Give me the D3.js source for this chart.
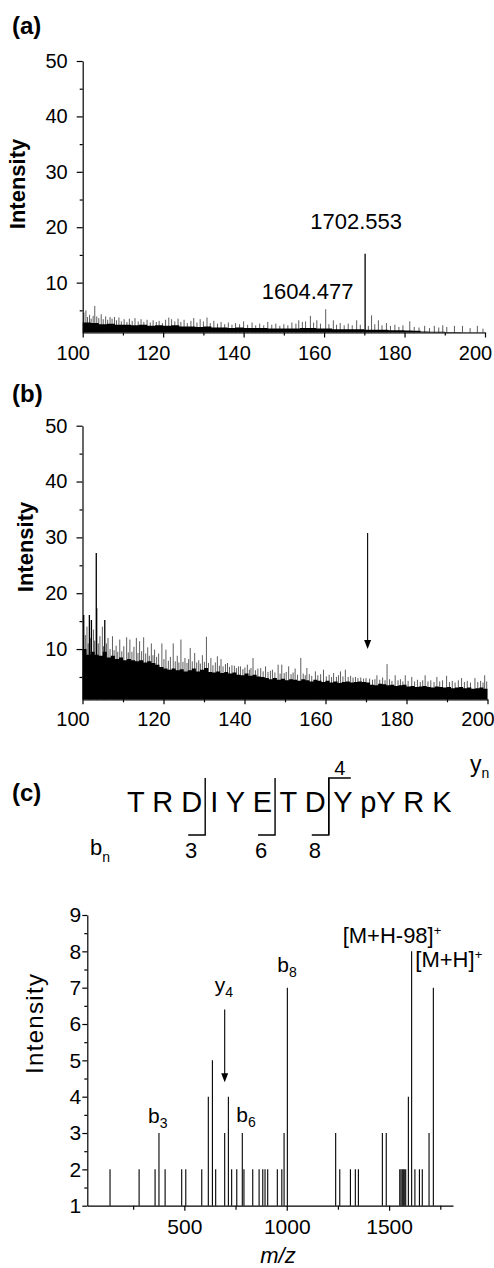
<!DOCTYPE html>
<html>
<head>
<meta charset="utf-8">
<script src="https://cdn.jsdelivr.net/npm/d3@7"></script>
<style>
  body { margin: 0; background: #fff; }
  svg { display: block; }
  text { font-family: "Liberation Sans", Arial, sans-serif; fill: #000; }
</style>
</head>
<body>
<div id="chart"></div>
<script>

// ---------- DATA ----------

// panel (a): dense noise floor, sampled every 2 units from 100 to 200
var envA = [2.8,2.7,2.5,2.6,2.4,2.4,2.3,2.4,2.2,2.3,2.2,2.3,2.1,2.1,2.0,2.1,1.9,1.9,1.8,1.9,
            1.8,1.8,1.8,1.7,1.7,1.7,1.7,1.8,1.8,1.7,1.7,1.6,1.6,1.6,1.6,1.5,1.5,1.5,1.4,1.4,
            1.35,1.3,1.2,1.15,1.15,1.1,1.1,1.05,1.05,1.05,1.05];

// panel (a): individual peaks [m/z / 10, intensity]
var peaksA = [
  [100.3,4.6],[100.8,5.0],[101.2,3.8],[101.7,4.2],[102.1,3.5],[102.6,4.0],[103.0,5.8],[103.5,3.9],
  [104.0,3.6],[104.6,4.3],[105.1,3.4],[105.7,3.9],[106.2,3.3],[106.8,3.8],[107.3,3.5],[107.9,3.8],
  [108.4,3.2],[109.0,3.7],[109.6,3.0],[110.3,3.4],[111.0,2.9],[111.6,3.5],[112.3,3.1],[113.0,3.6],
  [113.8,3.0],[114.5,3.4],[115.2,2.9],[116.0,3.3],[116.8,2.8],[117.5,3.2],[118.3,2.9],[119.0,3.1],
  [119.8,2.7],[120.6,3.3],[121.4,3.7],[122.1,3.4],[122.9,3.0],[123.7,3.5],[124.4,2.9],[125.2,3.3],
  [126.0,2.7],[126.9,3.1],[127.6,3.6],[128.4,2.8],[129.2,3.4],[130.0,3.0],[130.9,3.7],[131.7,2.7],
  [132.6,3.1],[133.5,2.6],[134.4,2.9],[135.3,2.5],[136.2,2.8],[137.1,2.4],[138.0,2.7],[139.0,2.5],
  [140.0,3.0],[141.0,2.4],[142.1,2.8],[143.0,2.3],[144.0,2.6],[145.0,2.3],[146.0,2.9],[147.0,2.4],
  [148.0,2.6],[149.0,2.2],[150.0,2.5],[151.0,2.3],[152.0,2.8],[153.0,2.6],[153.7,3.2],[154.6,2.9],
  [155.4,3.0],[156.6,4.0],[157.4,2.8],[158.2,3.2],[159.1,2.6],[160.4,5.2],[161.2,2.5],[162.3,3.2],
  [163.1,2.4],[164.0,2.7],[165.0,2.3],[166.0,2.6],[167.0,2.3],[168.1,3.2],[169.0,2.4],[170.2,15.2],
  [171.0,2.2],[171.8,4.1],[172.6,2.5],[173.5,3.2],[174.4,2.3],[175.5,2.7],[176.5,2.2],[177.6,2.4],
  [178.6,2.0],[179.6,2.3],[181.3,3.0],[182.4,2.0],[183.6,1.9],[185.0,2.2],[186.2,1.8],[187.4,2.2],
  [188.5,1.9],[189.5,2.3],[190.5,2.0],[192.4,2.2],[194.4,2.2],[196.3,1.8],[198.1,2.2],[199.5,1.7]
];
var labelsA = [
  { mz: 170.2, v: 19.7, text: '1702.553' },
  { mz: 160.4, v: 7.05, text: '1604.477' }
];

// panel (b): dense noise floor, sampled every unit from 100 to 200
var envB = [10,9,9.5,9,8.8, 9.5,8.5,8.8,8.2,8.5,8, 8.2,8,7.8,8,7.6,7.8,7.5,7.2,
            6.8,6.5,6.3,6.5,6.2,6.4,6.0, 6.2,6.5,6.0,6.3,6.6,5.9, 5.8,6.0,5.7,5.9,5.6,5.8,5.4,
            5.3,5.6,5.2,5.4,5.1,5.0,4.8, 4.6,4.8,4.5,4.7,4.4,4.6,4.5, 4.3,4.6,4.4,4.2,4.5,4.3,4.1,4.3,
            4.0,4.2,3.9,4.1,4.2,4.0,4.1,4.2,4.1,4.0, 3.6,3.5,3.8,3.7,3.5,3.6,3.4,3.5,3.6,3.3,
            3.4,3.2,3.3,3.4,3.2,3.1,3.3,3.2,3.1,3.2, 3.0,3.1,3.2,3.0,3.1,2.9,3.0,3.1,2.9,3.0];

var peaksB = [
  [100.3,16.1],[100.7,12.5],[101.1,14.0],[101.4,11.0],[101.7,16.1],[102.0,12.0],[102.2,15.2],[102.7,13.5],
  [103.0,11.5],[103.4,27.2],[103.5,17.3],[103.9,11.0],[104.3,12.3],[104.9,14.0],[105.2,10.5],[105.5,15.2],
  [105.9,11.0],[106.3,12.0],[106.8,10.0],[107.4,12.3],[107.8,9.8],[108.3,10.6],[108.7,9.5],[109.2,11.7],
  [109.7,9.6],[110.2,10.5],[110.9,12.1],[111.3,9.4],[111.7,11.7],[112.2,9.5],[112.7,10.4],[113.3,12.0],
  [113.7,9.3],[114.1,11.4],[114.6,9.6],[115.1,12.1],[115.6,9.2],[116.1,10.3],[116.5,8.8],[117.0,11.0],
  [117.4,8.9],[117.8,9.9],[118.3,8.6],[118.8,9.2],[119.6,11.0],[120.1,8.2],[120.6,9.9],[121.2,7.9],
  [121.7,8.6],[122.4,11.0],[122.9,7.8],[123.4,8.8],[123.8,7.6],[124.3,11.7],[124.8,7.7],[125.3,8.4],
  [125.8,7.5],[126.2,8.2],[126.6,10.2],[127.1,7.8],[127.7,9.3],[128.2,7.6],[128.7,8.0],[129.1,7.4],
  [129.6,8.9],[130.1,7.7],[130.6,12.2],[131.1,7.5],[131.7,8.4],[132.2,7.1],[132.8,7.6],[133.3,8.7],
  [133.8,7.0],[134.2,8.2],[134.7,6.9],[135.3,7.3],[135.8,7.5],[136.3,6.8],[136.9,7.1],[137.5,7.0],
  [138.0,6.6],[138.5,6.9],[139.0,6.9],[139.6,6.4],[140.1,6.7],[140.7,7.2],[141.2,6.3],[141.6,6.6],
  [142.1,8.4],[142.7,6.2],[143.3,6.5],[144.0,6.6],[144.6,6.0],[145.2,6.9],[145.8,5.9],[146.4,6.1],
  [146.9,6.3],[147.5,5.8],[148.3,7.2],[148.8,5.6],[149.2,7.2],[149.8,5.7],[150.3,5.9],[150.9,6.9],
  [151.5,5.5],[152.0,5.8],[152.5,6.5],[153.1,5.4],[153.9,8.4],[154.5,5.6],[155.0,5.3],[155.4,6.6],
  [156.0,5.5],[156.6,5.2],[157.5,6.0],[158.1,5.3],[158.8,5.5],[159.5,6.3],[160.2,5.1],[160.9,5.4],
  [161.5,5.0],[162.0,5.7],[162.7,5.0],[163.2,5.3],[163.7,6.0],[164.3,5.1],[164.9,6.3],[165.6,5.0],
  [166.2,5.2],[166.8,4.9],[167.4,5.0],[168.0,4.8],[168.7,4.9],[169.4,4.7],[170.0,4.8],[170.9,4.7],
  [171.6,4.5],[172.2,4.6],[172.7,5.3],[173.4,4.5],[174.1,4.9],[174.7,4.4],[175.2,7.3],[175.8,4.6],
  [176.4,4.3],[177.2,5.3],[177.9,4.4],[178.5,4.6],[179.1,4.2],[179.7,5.3],[180.4,4.3],[181.3,5.0],
  [182.0,4.2],[182.7,4.5],[183.4,4.1],[184.0,4.4],[184.6,5.3],[185.3,4.2],[186.0,4.4],[186.8,4.1],
  [187.5,5.0],[188.2,4.2],[188.9,4.4],[189.9,5.2],[190.6,4.1],[191.3,4.3],[192.0,4.0],[192.8,4.4],
  [193.6,4.8],[194.3,4.1],[195.0,4.3],[195.8,4.0],[196.9,4.8],[197.6,4.1],[198.3,4.3],[198.9,4.0],
  [199.3,5.3],[199.8,4.2]
];
var arrowB = { mz: 170.4, from: 30.8, to: 10 };

// panel (c): peptide and MS/MS peaks
var residues = ['T','R','D','I','Y','E','T','D','Y','pY','R','K'];
var bIons = [3, 6, 8];
var yIons = [4];

var mzC  = [137,279,357,376,406,487,507,585,617,637,653,697,715,731,756,783,791,834,865,883,894,907,954,976,987,1003,
            1239,1259,1311,1335,1350,1467,1486,1552,1558,1564,1569,1574,1581,1594,1610,1626,1648,1662,1695,1716];
var intC = [2,2,2,3,2,2,2,2,4,5,2,3,4,2,2,3,2,2,2,2,2,2,2,2,3,7,
            3,2,2,2,2,3,3,2,2,2,2,2,2,4,8,2,2,2,3,7];
var ionLabels = [
  { mz: 376,  v: 3.28, base: 'b', sub: '3' },
  { mz: 783,  v: 3.31, base: 'b', sub: '6' },
  { mz: 697,  v: 6.88, base: 'y', sub: '4' },
  { mz: 1003, v: 7.43, base: 'b', sub: '8' },
  { mz: 1610, v: 8.23, base: '[M+H-98]', sup: '+' },
  { mz: 1716, v: 7.57, base: '[M+H]', sup: '+' }
];
var arrowC = { mz: 697, from: 6.4, to: 4.4 };

// ---------- DRAWING ----------

var svg = d3.select('#chart').append('svg')
    .attr('width', 494)
    .attr('height', 1268);

function arrow(g, x, yFrom, yTo) {
    g.append('line')
        .attr('x1', x).attr('x2', x)
        .attr('y1', yFrom).attr('y2', yTo - 8)
        .attr('stroke', '#000').attr('stroke-width', 1.1);
    g.append('path')
        .attr('d', 'M' + (x - 3.5) + ',' + (yTo - 9) + 'L' + (x + 3.5) + ',' + (yTo - 9) + 'L' + x + ',' + yTo + 'Z')
        .attr('fill', '#000');
}

function styleAxis(g, size) {
    g.selectAll('path, line').attr('stroke', '#000').attr('stroke-width', 1.2);
    g.selectAll('text')
        .attr('font-family', '"Liberation Sans", Arial, sans-serif')
        .attr('font-size', size)
        .attr('fill', '#000');
}

// panels (a) and (b) share the same layout
function drawSpectrum(p) {
    var g = svg.append('g');
    var x = d3.scaleLinear().domain([100, 200]).range([p.x0, p.x1]);
    var y = d3.scaleLinear().domain([1, 50]).range([p.yBase, p.yTop]);

    // sticks (drawn under the floor so they only show above it)
    g.selectAll('line.peak')
        .data(p.peaks)
        .enter().append('line')
        .attr('class', 'peak')
        .attr('x1', function(d) { return x(d[0]); })
        .attr('x2', function(d) { return x(d[0]); })
        .attr('y1', y(1))
        .attr('y2', function(d) { return y(d[1]); })
        .attr('stroke', function(d) { return d[1] > 14 ? '#000' : '#333'; })
        .attr('stroke-width', function(d) { return d[1] > 14 ? 1.3 : 0.8; });

    // noise floor
    var env = p.env.map(function(v, i) { return [100 + i * p.step, v]; });
    g.append('path')
        .datum(env)
        .attr('d', d3.area()
            .x(function(d) { return x(d[0]); })
            .y0(y(1))
            .y1(function(d) { return y(d[1]); })
            .curve(d3.curveStepAfter))
        .attr('fill', '#000');

    // axes: minor ticks first, then major
    g.append('g')
        .attr('transform', 'translate(0,' + y(1) + ')')
        .call(d3.axisBottom(x).tickValues(d3.range(110, 200, 20)).tickSize(3).tickFormat('').tickSizeOuter(0))
        .call(function(a) { a.select('.domain').remove(); styleAxis(a, 20); });
    var xa = g.append('g')
        .attr('transform', 'translate(0,' + y(1) + ')')
        .call(d3.axisBottom(x).tickValues(d3.range(100, 201, 20)).tickSize(5).tickPadding(8).tickSizeOuter(0));
    styleAxis(xa, 20);
    xa.selectAll('text').attr('dx', -10);

    g.append('g')
        .attr('transform', 'translate(' + x(100) + ',0)')
        .call(d3.axisLeft(y).tickValues(d3.range(5, 50, 10)).tickSize(3).tickFormat('').tickSizeOuter(0))
        .call(function(a) { a.select('.domain').remove(); styleAxis(a, 20); });
    var ya = g.append('g')
        .attr('transform', 'translate(' + x(100) + ',0)')
        .call(d3.axisLeft(y).tickValues(d3.range(10, 51, 10)).tickSize(6).tickPadding(9).tickSizeOuter(0));
    styleAxis(ya, 20);

    // panel letter and y title
    g.append('text')
        .attr('x', 12).attr('y', p.letterY)
        .attr('font-size', 24).attr('font-weight', 'bold')
        .text(p.letter);
    g.append('text')
        .attr('transform', 'translate(' + p.titleX + ',' + p.titleY + ') rotate(-90)')
        .attr('text-anchor', 'middle')
        .attr('font-size', 22).attr('font-weight', 'bold')
        .text('Intensity');

    return { g: g, x: x, y: y };
}

// (a)
var pa = drawSpectrum({ x0: 82.7, x1: 485, yBase: 332.5, yTop: 61, env: envA, step: 2, peaks: peaksA,
                        letter: '(a)', letterY: 34, titleX: 25, titleY: 184 });
var labelDx = [-9, -18];
pa.g.selectAll('text.ann')
    .data(labelsA)
    .enter().append('text')
    .attr('class', 'ann')
    .attr('x', function(d, i) { return pa.x(d.mz) + labelDx[i]; })
    .attr('y', function(d) { return pa.y(d.v); })
    .attr('text-anchor', 'middle')
    .attr('font-size', 22)
    .text(function(d) { return d.text; });

// (b)
var pb = drawSpectrum({ x0: 82.5, x1: 487.5, yBase: 699.3, yTop: 425.7, env: envB, step: 1, peaks: peaksB,
                        letter: '(b)', letterY: 402, titleX: 33, titleY: 547 });
arrow(pb.g, pb.x(arrowB.mz), pb.y(arrowB.from), pb.y(arrowB.to));

// (c) sequence with fragment brackets
var gs = svg.append('g');
gs.append('text').attr('x', 12).attr('y', 801)
    .attr('font-size', 24).attr('font-weight', 'bold').text('(c)');

var seqStr = residues.join(' ');
var seq = gs.append('text')
    .attr('x', 127).attr('y', 812)
    .attr('font-size', 29)
    .text(seqStr);

// x just right of the n-th residue
function breakX(n) {
    var idx = residues.slice(0, n).join(' ').length - 1;
    return seq.node().getEndPositionOfChar(idx).x + 3;
}
var topY = 778, botY = 835;
bIons.forEach(function(n) {
    var bx = breakX(n);
    gs.append('path')
        .attr('d', 'M' + bx + ',' + topY + 'V' + botY + 'H' + (bx - 17))
        .attr('fill', 'none').attr('stroke', '#000').attr('stroke-width', 1.4);
    gs.append('text')
        .attr('x', bx - 14).attr('y', 858)
        .attr('text-anchor', 'middle').attr('font-size', 22)
        .text(n);
});
yIons.forEach(function(n) {
    var bx = breakX(residues.length - n);
    gs.append('path')
        .attr('d', 'M' + bx + ',' + botY + 'V' + topY + 'H' + (bx + 22))
        .attr('fill', 'none').attr('stroke', '#000').attr('stroke-width', 1.4);
    gs.append('text')
        .attr('x', bx + 11).attr('y', 775)
        .attr('text-anchor', 'middle').attr('font-size', 20)
        .text(n);
});
var yn = gs.append('text').attr('x', 470).attr('y', 772).attr('font-size', 23);
yn.append('tspan').text('y');
yn.append('tspan').attr('font-size', 14).attr('dy', 6).text('n');
var bn = gs.append('text').attr('x', 90).attr('y', 855).attr('font-size', 22);
bn.append('tspan').text('b');
bn.append('tspan').attr('font-size', 14).attr('dy', 7).text('n');

// (c) MS/MS spectrum
var gc = svg.append('g');
var xC = d3.scaleLinear().domain([26, 1812]).range([87.3, 453]);
var yC = d3.scaleLinear().domain([1, 9]).range([1205.7, 915]);

gc.selectAll('line.bar')
    .data(mzC)
    .enter().append('line')
    .attr('class', 'bar')
    .attr('x1', function(d) { return xC(d); })
    .attr('x2', function(d) { return xC(d); })
    .attr('y1', yC(1))
    .attr('y2', function(d, i) { return yC(intC[i]); })
    .attr('stroke', '#000')
    .attr('stroke-width', 1.1);

gc.append('g')
    .attr('transform', 'translate(0,' + yC(1) + ')')
    .call(d3.axisBottom(xC).tickValues([250, 750, 1250, 1750]).tickSize(4).tickFormat('').tickSizeOuter(0))
    .call(function(a) { a.select('.domain').remove(); styleAxis(a, 21); });
var xaC = gc.append('g')
    .attr('transform', 'translate(0,' + yC(1) + ')')
    .call(d3.axisBottom(xC).tickValues([500, 1000, 1500]).tickFormat(d3.format('d'))
        .tickSize(5).tickPadding(8).tickSizeOuter(0));
styleAxis(xaC, 21);

gc.append('g')
    .attr('transform', 'translate(' + xC.range()[0] + ',0)')
    .call(d3.axisLeft(yC).tickValues(d3.range(1.5, 9, 1)).tickSize(3).tickFormat('').tickSizeOuter(0))
    .call(function(a) { a.select('.domain').remove(); styleAxis(a, 21); });
var yaC = gc.append('g')
    .attr('transform', 'translate(' + xC.range()[0] + ',0)')
    .call(d3.axisLeft(yC).tickValues(d3.range(1, 10, 1)).tickFormat(d3.format('d'))
        .tickSize(5).tickPadding(1).tickSizeOuter(0));
styleAxis(yaC, 21);

gc.append('text')
    .attr('transform', 'translate(43,1024) rotate(-90)')
    .attr('text-anchor', 'middle')
    .attr('font-size', 24)
    .attr('textLength', 100)
    .text('Intensity');
gc.append('text')
    .attr('x', 278).attr('y', 1263)
    .attr('text-anchor', 'middle')
    .attr('font-size', 22).attr('font-style', 'italic')
    .text('m/z');

// ion labels
var ionDx = [-11, -6, -10, -10, -69, -18];
ionLabels.forEach(function(d, i) {
    var t = gc.append('text')
        .attr('x', xC(d.mz) + ionDx[i])
        .attr('y', yC(d.v))
        .attr('font-size', d.sub ? 21 : 22);
    t.append('tspan').text(d.base);
    if (d.sub) t.append('tspan').attr('font-size', 14).attr('dy', 5).text(d.sub);
    if (d.sup) t.append('tspan').attr('font-size', 13).attr('dy', -8).text(d.sup);
});
arrow(gc, xC(arrowC.mz), yC(arrowC.from), yC(arrowC.to));

</script>
</body>
</html>
